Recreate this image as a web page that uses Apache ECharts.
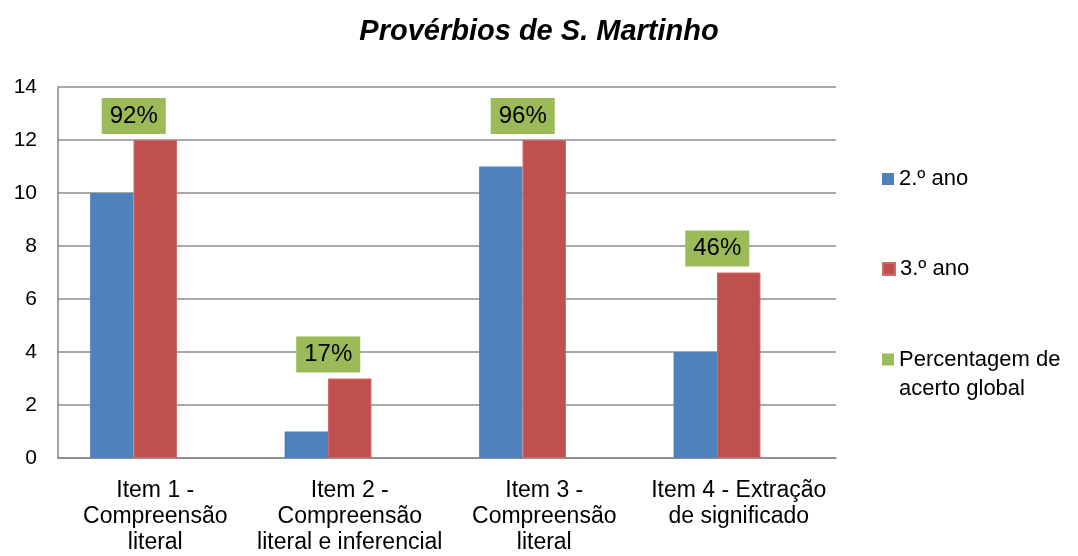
<!DOCTYPE html>
<html>
<head>
<meta charset="utf-8">
<script src="https://cdn.jsdelivr.net/npm/echarts@6/dist/echarts.min.js"></script>
<style>
html,body{margin:0;padding:0;background:#fff;}
#chart{width:1078px;height:556px;}
</style>
</head>
<body>
<div id="chart"></div>
<script>
const categories = [
  'Item 1 -\nCompreensão\nliteral',
  'Item 2 -\nCompreensão\nliteral e inferencial',
  'Item 3 -\nCompreensão\nliteral',
  'Item 4 - Extração\nde significado'
];
const ano2 = [10, 1, 11, 4];
const ano3 = [12, 3, 12, 7];
const percentagem = [92, 17, 96, 46];
const seriesNames = ['2.º ano', '3.º ano', 'Percentagem de acerto global'];

const FONT = '"Liberation Sans", Arial, sans-serif';
const chart = echarts.init(document.getElementById('chart'), null, {renderer: 'canvas'});

function legendAt(name, top, extra) {
  return Object.assign({
    data: [name],
    orient: 'vertical',
    left: 882,
    top: top,
    padding: 0,
    itemWidth: 12,
    itemHeight: 12,
    icon: 'rect',
    selectedMode: false,
    textStyle: {fontFamily: FONT, fontSize: 22, color: '#000', lineHeight: 24}
  }, extra || {});
}

chart.setOption({
  animation: false,
  backgroundColor: '#fff',
  title: {
    text: 'Provérbios de S. Martinho',
    left: 'center',
    top: 17,
    padding: 0,
    textStyle: {fontFamily: FONT, fontSize: 29, fontWeight: 'bold', fontStyle: 'italic', color: '#000'}
  },
  legend: [
    legendAt(seriesNames[0], 167),
    legendAt(seriesNames[1], 257),
    legendAt(seriesNames[2], 316, {
      formatter: function () { return ' \nPercentagem de\nacerto global'; },
      textStyle: {fontFamily: FONT, fontSize: 22, color: '#000', lineHeight: 29}
    })
  ],
  grid: {left: 58, right: 242, top: 87, bottom: 96, containLabel: false},
  xAxis: {
    type: 'category',
    data: categories,
    axisLine: {show: true, lineStyle: {color: '#868686', width: 1.5}},
    axisTick: {show: false},
    axisLabel: {interval: 0, fontFamily: FONT, fontSize: 23, lineHeight: 26, color: '#000', margin: 20}
  },
  yAxis: {
    type: 'value',
    min: 0,
    max: 14,
    interval: 2,
    axisLine: {show: true, lineStyle: {color: '#868686', width: 1.5}},
    axisTick: {show: false},
    axisLabel: {fontFamily: FONT, fontSize: 21, color: '#000', margin: 21},
    splitLine: {show: true, lineStyle: {color: '#8c8c8c', width: 1.5}}
  },
  series: [
    {
      name: seriesNames[0],
      type: 'bar',
      data: ano2,
      barGap: '0%',
      barCategoryGap: '33%',
      itemStyle: {color: '#4F81BD'}
    },
    {
      name: seriesNames[1],
      type: 'bar',
      data: ano3,
      barGap: '0%',
      barCategoryGap: '33%',
      itemStyle: {color: '#C0504D', borderColor: '#D06A67', borderWidth: 1},
      label: {
        show: true,
        position: 'top',
        distance: 6,
        offset: [-21.5, 0],
        formatter: function (p) { return percentagem[p.dataIndex] + '%'; },
        backgroundColor: '#9BBB59',
        padding: [5, 8],
        fontFamily: FONT,
        fontSize: 24,
        lineHeight: 26,
        color: '#000'
      }
    },
    {
      name: seriesNames[2],
      type: 'bar',
      data: percentagem.map(function () { return 0; }),
      barGap: '0%',
      barCategoryGap: '33%',
      itemStyle: {color: '#9BBB59'}
    }
  ]
});
</script>
</body>
</html>
